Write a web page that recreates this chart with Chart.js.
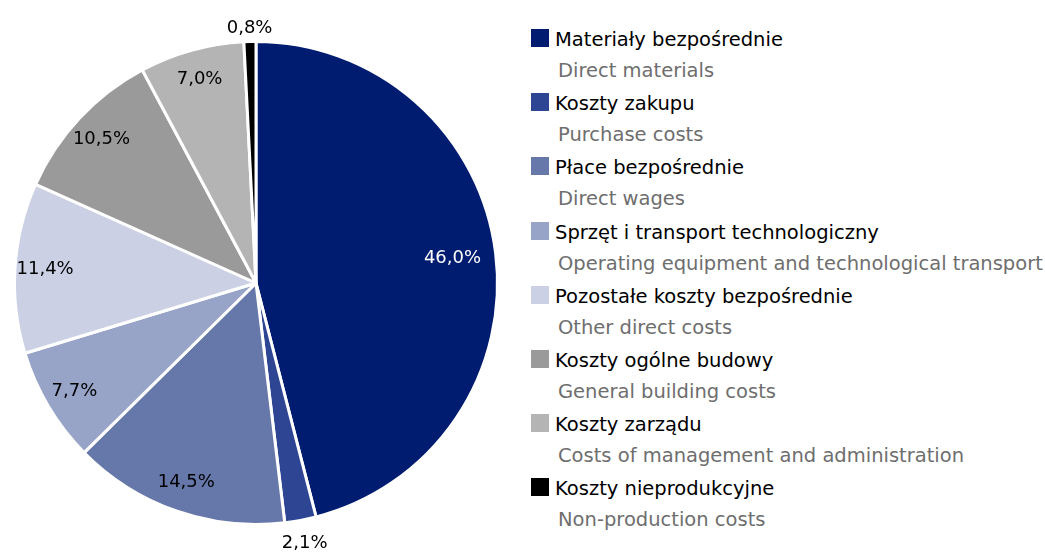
<!DOCTYPE html>
<html><head><meta charset="utf-8">
<script src="https://cdn.jsdelivr.net/npm/chart.js@4/dist/chart.umd.min.js"></script>
<style>
html,body{margin:0;padding:0;background:#fff;}
#wrap{position:relative;width:1045px;height:556px;overflow:hidden;font-family:"DejaVu Sans",sans-serif;}
#pie{position:absolute;left:0;top:0;width:512px;height:556px;}
#legend{position:absolute;left:531px;top:0;}
.item{position:absolute;left:0;white-space:nowrap;}
.sw{position:absolute;left:0;width:18px;height:18px;}
.pl{position:absolute;left:24px;font-size:19.5px;color:#000;line-height:24px;}
.en{position:absolute;left:27px;font-size:19.5px;color:#6e6e6e;line-height:24px;}
</style></head>
<body><div id="wrap"><div id="pie"><canvas id="c"></canvas></div><div id="legend"></div></div>
<script>
const labelsPL = ["Materiały bezpośrednie","Koszty zakupu","Płace bezpośrednie","Sprzęt i transport technologiczny","Pozostałe koszty bezpośrednie","Koszty ogólne budowy","Koszty zarządu","Koszty nieprodukcyjne"];
const labelsEN = ["Direct materials","Purchase costs","Direct wages","Operating equipment and technological transport","Other direct costs","General building costs","Costs of management and administration","Non-production costs"];
const shares = [46.0, 2.1, 14.5, 7.7, 11.4, 10.5, 7.0, 0.8];
const colors = ["#001c70","#2e4593","#6677aa","#97a4c8","#cbd0e4","#999a99","#b3b4b3","#000000"];
const outsideLabels = [false,true,false,false,false,false,false,true];
const labelColors = ["#ffffff","#000","#000","#000","#000","#000","#000","#000"];

const fmt = v => v.toFixed(1).replace('.', ',') + '%';

// legend
const lg = document.getElementById('legend');
labelsPL.forEach((t,i)=>{
  const top = 28 + i*64.2;
  const d = document.createElement('div'); d.className='item'; d.style.top = top+'px';
  d.innerHTML = '<div class="sw" style="background:'+colors[i]+';top:1px"></div>'+
    '<div class="pl" style="top:0px">'+t+'</div>'+
    '<div class="en" style="top:31px">'+labelsEN[i]+'</div>';
  lg.appendChild(d);
});

const sliceLabels = {
  id:'sliceLabels',
  afterDatasetsDraw(chart){
    const ctx = chart.ctx;
    const meta = chart.getDatasetMeta(0);
    ctx.save();
    ctx.font = '18px "DejaVu Sans"';
    ctx.textAlign='center'; ctx.textBaseline='middle';
    meta.data.forEach((arc,i)=>{
      const p = arc.getProps(['x','y','startAngle','endAngle','outerRadius'],true);
      const mid = (p.startAngle+p.endAngle)/2;
      const r = outsideLabels[i] ? p.outerRadius + 18 + 5*Math.sin(mid) : p.outerRadius*(i===0 ? 0.82 : 0.875);
      ctx.fillStyle = labelColors[i];
      ctx.fillText(fmt(shares[i]), p.x + Math.cos(mid)*r, p.y + Math.sin(mid)*r);
    });
    ctx.restore();
  }
};

new Chart(document.getElementById('c'),{
  type:'pie',
  data:{labels:labelsPL,datasets:[{data:shares,backgroundColor:colors,borderColor:'#ffffff',borderWidth:3}]},
  options:{
    responsive:true,maintainAspectRatio:false,animation:false,
    layout:{padding:{top:40,bottom:30,left:0,right:0}},
    plugins:{legend:{display:false},tooltip:{enabled:false}}
  },
  plugins:[sliceLabels]
});
</script></body></html>
